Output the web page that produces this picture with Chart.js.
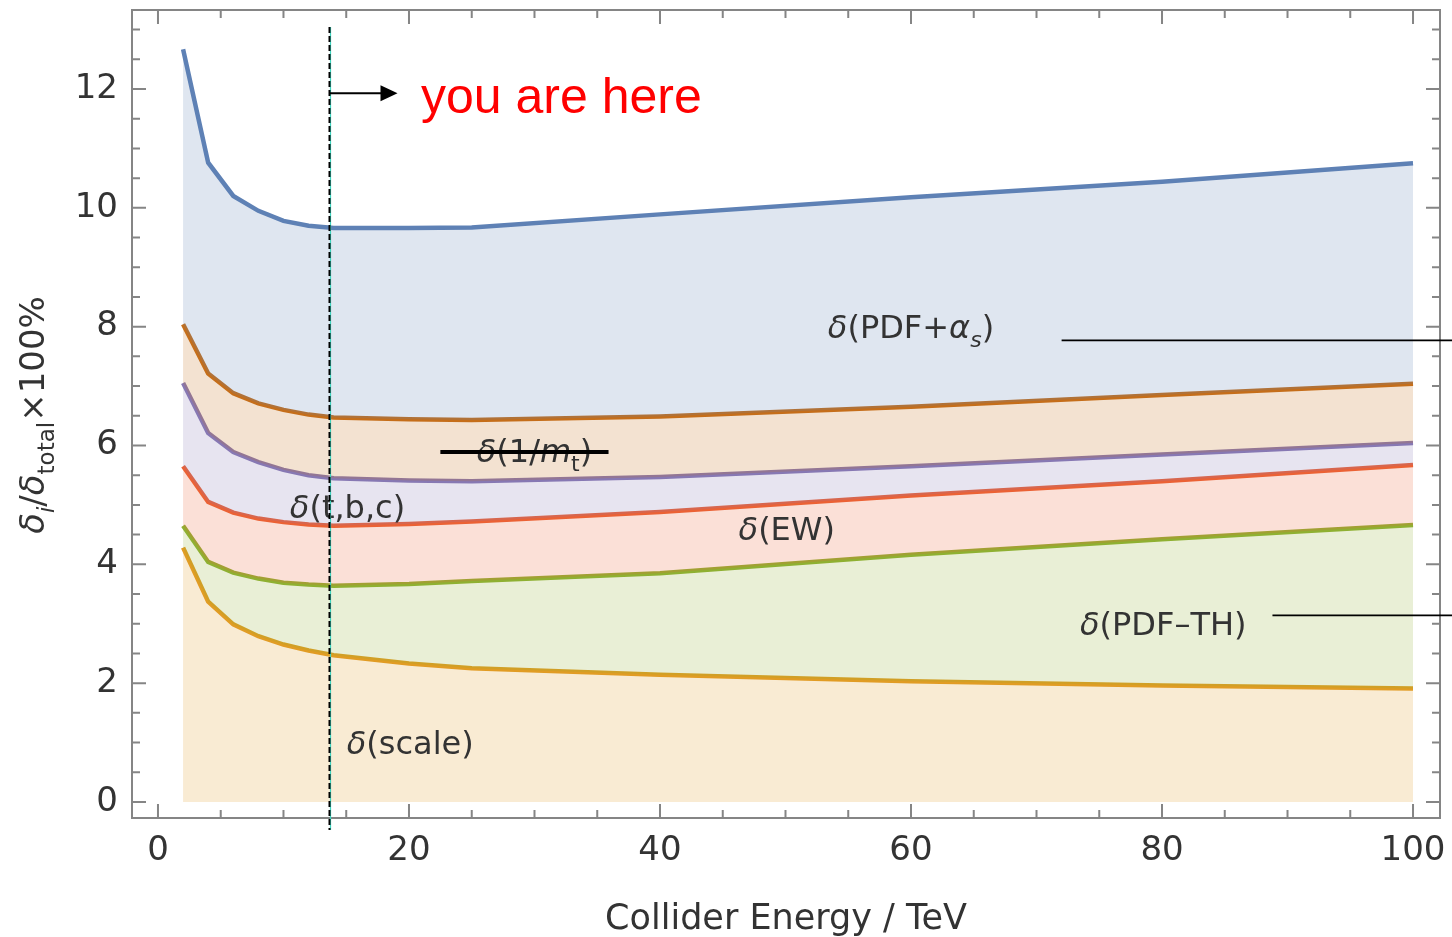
<!DOCTYPE html>
<html lang="en">
<head>
<meta charset="UTF-8">
<title>Uncertainty breakdown vs collider energy</title>
<script src="https://cdn.jsdelivr.net/npm/chart.js@4.4.1/dist/chart.umd.min.js"></script>
<style>
  html, body { margin: 0; padding: 0; background: #fff; }
  #wrap { width: 1452px; height: 937px; }
</style>
</head>
<body>
<div id="wrap"><canvas id="chart" width="1452" height="937"></canvas></div>
<script>
// collider energy in TeV
const energy = [2, 4, 6, 8, 10, 12, 14, 20, 25, 40, 60, 80, 100];

// cumulative uncertainty shares, delta_i / delta_total x 100%
const pdfAlphaS = [12.67, 10.76, 10.20, 9.95, 9.78, 9.70, 9.66, 9.66, 9.67, 9.89, 10.18, 10.44, 10.75];
const invMt     = [8.04, 7.21, 6.88, 6.71, 6.60, 6.52, 6.47, 6.44, 6.43, 6.49, 6.65, 6.85, 7.04];
const tbc       = [7.05, 6.21, 5.89, 5.72, 5.59, 5.50, 5.45, 5.41, 5.40, 5.47, 5.65, 5.85, 6.04];
const ew        = [5.65, 5.05, 4.87, 4.77, 4.71, 4.67, 4.65, 4.68, 4.72, 4.88, 5.16, 5.40, 5.67];
const pdfTh     = [4.65, 4.04, 3.86, 3.76, 3.69, 3.66, 3.64, 3.67, 3.72, 3.85, 4.16, 4.42, 4.66];
const scaleUnc  = [4.28, 3.37, 2.99, 2.79, 2.65, 2.55, 2.47, 2.33, 2.25, 2.14, 2.03, 1.96, 1.91];

const xTicks = [0, 20, 40, 60, 80, 100];
const yTicks = [0, 2, 4, 6, 8, 10, 12];

const lhcEnergy = 13.6;

const palette = {
  blue: '#5E81B5', brown: '#C56E1A', purple: '#8778B3',
  red: '#EB6235', green: '#8FB032', yellow: '#E19C24'
};

function fade(hex, a) {
  const n = parseInt(hex.slice(1), 16);
  return `rgba(${n >> 16}, ${(n >> 8) & 255}, ${n & 255}, ${a})`;
}

function band(values, color, fill) {
  return {
    data: energy.map((e, i) => ({ x: e, y: values[i] })),
    borderColor: color,
    backgroundColor: fade(color, 0.2),
    borderWidth: 4.5,
    pointRadius: 0,
    tension: 0,
    fill: fill
  };
}

// in-plot labels: [parts, x, y] in data units
const bandLabels = [
  [[['δ', 'i'], ['(PDF+'], ['α', 'i'], ['s', 'is'], [')']], 60, 8.0],
  [[['δ', 'i'], ['(1/'], ['m', 'i'], ['t', 's'], [')']], 30, 5.9],
  [[['δ', 'i'], ['(t,b,c)']], 15.1, 4.97],
  [[['δ', 'i'], ['(EW)']], 50.1, 4.6],
  [[['δ', 'i'], ['(PDF–TH)']], 80.1, 3.0],
  [[['δ', 'i'], ['(scale)']], 20.1, 1.0]
];

function drawRich(ctx, parts, x, baseline, size, align) {
  const fontOf = p => {
    const st = p[1] || '';
    const sz = st.includes('s') ? Math.round(size * 0.68) : size;
    return `${st.includes('i') ? 'italic ' : ''}${sz}px "DejaVu Sans"`;
  };
  const widths = parts.map(p => { ctx.font = fontOf(p); return ctx.measureText(p[0]).width; });
  const total = widths.reduce((s, w) => s + w, 0);
  let cx = align === 'center' ? x - total / 2 : x;
  ctx.textAlign = 'left';
  ctx.textBaseline = 'alphabetic';
  parts.forEach((p, i) => {
    ctx.font = fontOf(p);
    const drop = (p[1] || '').includes('s') ? size * 0.28 : 0;
    ctx.fillText(p[0], cx, baseline + drop);
    cx += widths[i];
  });
}

const decorations = {
  id: 'decorations',
  afterDatasetsDraw(chart) {
    const { ctx, chartArea: a, scales: { x, y } } = chart;
    ctx.save();

    // frame with inward ticks
    ctx.strokeStyle = '#858585';
    ctx.lineWidth = 2;
    ctx.strokeRect(a.left, a.top, a.right - a.left, a.bottom - a.top);
    ctx.beginPath();
    for (let v = 0; v <= 100; v += 5) {
      const px = x.getPixelForValue(v);
      const len = v % 20 === 0 ? 14 : 8;
      ctx.moveTo(px, a.bottom); ctx.lineTo(px, a.bottom - len);
      ctx.moveTo(px, a.top); ctx.lineTo(px, a.top + len);
    }
    for (let v = 0; v <= 13; v += 0.5) {
      const py = y.getPixelForValue(v);
      const len = v % 2 === 0 ? 14 : 8;
      ctx.moveTo(a.left, py); ctx.lineTo(a.left + len, py);
      ctx.moveTo(a.right, py); ctx.lineTo(a.right - len, py);
    }
    ctx.stroke();

    // band labels
    ctx.fillStyle = '#333';
    bandLabels.forEach(([parts, vx, vy]) => {
      drawRich(ctx, parts, x.getPixelForValue(vx), y.getPixelForValue(vy) + 11, 32, 'center');
    });

    // strike over the 1/m_t label and pointer lines
    ctx.strokeStyle = '#000';
    ctx.lineWidth = 4;
    ctx.beginPath();
    ctx.moveTo(x.getPixelForValue(22.5), y.getPixelForValue(5.89));
    ctx.lineTo(x.getPixelForValue(35.9), y.getPixelForValue(5.89));
    ctx.stroke();
    ctx.lineWidth = 1.6;
    ctx.beginPath();
    ctx.moveTo(x.getPixelForValue(72), y.getPixelForValue(7.77));
    ctx.lineTo(chart.width, y.getPixelForValue(7.77));
    ctx.moveTo(x.getPixelForValue(88.8), y.getPixelForValue(3.14));
    ctx.lineTo(chart.width, y.getPixelForValue(3.14));
    ctx.stroke();

    // current LHC energy marker
    const lx = Math.round(x.getPixelForValue(lhcEnergy)) + 0.5;
    ctx.strokeStyle = '#3fd6c0';
    ctx.lineWidth = 1.2;
    ctx.beginPath();
    ctx.moveTo(lx + 1, a.top + 17); ctx.lineTo(lx + 1, a.bottom + 12);
    ctx.stroke();
    ctx.strokeStyle = '#000';
    ctx.lineWidth = 2;
    ctx.setLineDash([6, 3]);
    ctx.beginPath();
    ctx.moveTo(lx, a.top + 17); ctx.lineTo(lx, a.bottom + 12);
    ctx.stroke();
    ctx.setLineDash([]);

    const ay = y.getPixelForValue(11.93);
    ctx.lineWidth = 2;
    ctx.beginPath();
    ctx.moveTo(lx, ay); ctx.lineTo(lx + 52, ay);
    ctx.stroke();
    ctx.fillStyle = '#000';
    ctx.beginPath();
    ctx.moveTo(lx + 68, ay);
    ctx.lineTo(lx + 51, ay - 8);
    ctx.lineTo(lx + 51, ay + 8);
    ctx.closePath();
    ctx.fill();

    ctx.fillStyle = '#ff0000';
    ctx.font = '50px "Liberation Sans", Arial, sans-serif';
    ctx.textAlign = 'left';
    ctx.textBaseline = 'alphabetic';
    ctx.fillText('you are here', x.getPixelForValue(20.96), 113);

    // axis titles
    ctx.fillStyle = '#333';
    ctx.font = '35px "DejaVu Sans"';
    ctx.textAlign = 'center';
    ctx.fillText('Collider Energy / TeV', (a.left + a.right) / 2, 929);

    ctx.translate(44, 415);
    ctx.rotate(-Math.PI / 2);
    drawRich(ctx, [['δ', 'i'], ['i', 'is'], ['/'], ['δ', 'i'], ['total', 's'], ['×100%']], 0, 0, 34, 'center');

    ctx.restore();
  }
};

new Chart(document.getElementById('chart'), {
  type: 'line',
  data: {
    datasets: [
      band(pdfAlphaS, palette.blue, '+1'),
      band(invMt, palette.brown, '+1'),
      band(tbc, palette.purple, '+1'),
      band(ew, palette.red, '+1'),
      band(pdfTh, palette.green, '+1'),
      band(scaleUnc, palette.yellow, 'origin')
    ]
  },
  options: {
    responsive: false,
    animation: false,
    devicePixelRatio: 1,
    layout: { padding: { top: 10, right: 12, left: 0, bottom: 0 } },
    plugins: { legend: { display: false }, tooltip: { enabled: false } },
    scales: {
      x: {
        type: 'linear',
        min: -2.07,
        max: 102.15,
        grid: { display: false, drawTicks: false },
        border: { display: false },
        afterBuildTicks: s => { s.ticks = xTicks.map(v => ({ value: v })); },
        afterFit: s => { s.height = 119; s.paddingLeft = 0; s.paddingRight = 0; },
        ticks: { font: { size: 34, family: 'DejaVu Sans' }, color: '#333', padding: 13, maxRotation: 0 }
      },
      y: {
        type: 'linear',
        min: -0.27,
        max: 13.33,
        grid: { display: false, drawTicks: false },
        border: { display: false },
        afterBuildTicks: s => { s.ticks = yTicks.map(v => ({ value: v })); },
        afterFit: s => { s.width = 132; s.paddingTop = 0; s.paddingBottom = 0; },
        ticks: { font: { size: 34, family: 'DejaVu Sans' }, color: '#333', padding: 14 }
      }
    }
  },
  plugins: [decorations]
});
</script>
</body>
</html>
